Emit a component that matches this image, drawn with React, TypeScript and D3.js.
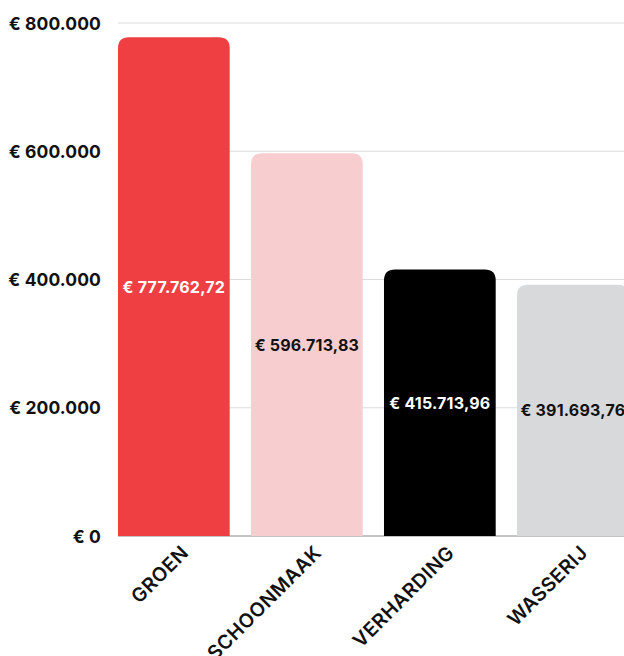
import React from "react";
import * as d3 from "d3";

const categories = ["GROEN", "SCHOONMAAK", "VERHARDING", "WASSERIJ"];
const values = [777762.72, 596713.83, 415713.96, 391693.76];
const valueLabels = ["€ 777.762,72", "€ 596.713,83", "€ 415.713,96", "€ 391.693,76"];
const barColors = ["#EF3F42", "#F7CDCF", "#000000", "#D8D9DB"];
const labelColors = ["#ffffff", "#111111", "#ffffff", "#111111"];
const yTicks = [0, 200000, 400000, 600000, 800000];
const yTickLabels = ["€ 0", "€ 200.000", "€ 400.000", "€ 600.000", "€ 800.000"];

const W = 624;
const H = 656;
const FONT = "Inter, 'Open Sans', sans-serif";

function topRoundedRect(x: number, y: number, w: number, h: number, r: number) {
  const rr = Math.min(r, h, w / 2);
  return `M${x},${y + h}V${y + rr}Q${x},${y} ${x + rr},${y}H${x + w - rr}Q${x + w},${y} ${x + w},${y + rr}V${y + h}Z`;
}

export default function App() {
  const y = d3.scaleLinear().domain([0, 800000]).range([536, 23]);
  const x = d3.scaleBand<string>().domain(categories).range([118, 628.7]).paddingInner(0.16).paddingOuter(0);
  const bw = x.bandwidth();
  return (
    <svg width={W} height={H} style={{ position: "absolute", left: 0, top: 0, background: "#fff" }}>
      {yTicks.map((t, i) => (
        <g key={t}>
          {i > 0 && <line x1={118} x2={W} y1={y(t)} y2={y(t)} stroke="#DCDCDC" strokeWidth={1} />}
          <text x={101} y={y(t)} textAnchor="end" dominantBaseline="central" fontFamily={FONT} fontWeight={700} fontSize={17.5} letterSpacing={0.1} fill="#111">
            {yTickLabels[i]}
          </text>
        </g>
      ))}
      <line x1={118} x2={W} y1={y(0)} y2={y(0)} stroke="#888" strokeWidth={1} />
      {categories.map((c, i) => {
        const bx = x(c)!;
        const by = y(values[i]);
        const bh = y(0) - by;
        return (
          <g key={c}>
            <path d={topRoundedRect(bx, by, bw, bh, 11)} fill={barColors[i]} />
            <text x={bx + bw / 2} y={(by + y(0)) / 2} textAnchor="middle" dominantBaseline="central" fontFamily={FONT} fontWeight={700} fontSize={16} letterSpacing={0.2} fill={labelColors[i]}>
              {valueLabels[i]}
            </text>
            <text
              transform={`translate(${bx + bw / 2 + 11},${549}) rotate(-45)`}
              textAnchor="end"
              dominantBaseline="central"
              fontFamily={FONT}
              fontWeight={600}
              fontSize={19.5}
              letterSpacing={0.5}
              fill="#111"
            >
              {c}
            </text>
          </g>
        );
      })}
    </svg>
  );
}
